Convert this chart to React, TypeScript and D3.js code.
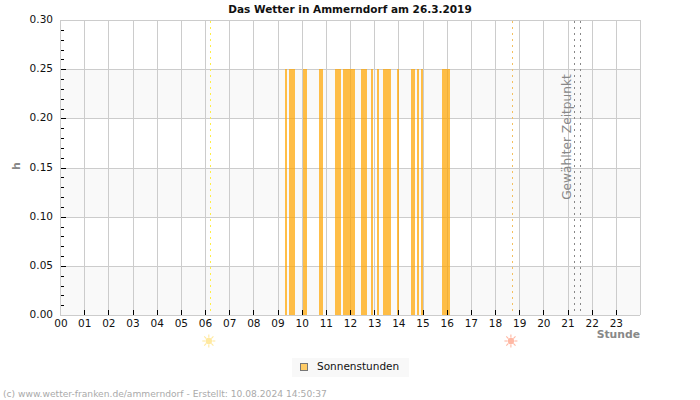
import React, { useRef, useEffect } from 'react';
import * as d3 from 'd3';

// Sunshine intervals, minutes after midnight
const sunStarts = [559, 569, 603, 643, 683, 703, 747, 772, 787, 802, 837, 872, 886, 896, 948];
const sunEnds = [564, 584, 613, 653, 698, 733, 762, 777, 792, 822, 842, 882, 891, 901, 968];
const sunValue = 0.25;

const hourLabels = d3.range(24).map((h) => String(h).padStart(2, '0'));
const bandStarts = [0, 0.1, 0.2];
const yMajorTicks = [0, 0.05, 0.1, 0.15, 0.2, 0.25, 0.3];
const yMinorTicks = d3.range(0, 31).map((v) => v / 100);

const sunrise = 6.22;
const sunset = 18.72;
const selectedTimes = [21.25, 21.5];

const width = 700;
const height = 400;
const margin = { top: 20, right: 60, bottom: 85, left: 60 };
const font = '"DejaVu Sans", sans-serif';
const labelSize = '10.5px';

const x = d3.scaleLinear().domain([0, 24]).range([margin.left, width - margin.right]);
const y = d3.scaleLinear().domain([0, 0.3]).range([height - margin.bottom, margin.top]);

const rays = d3.range(8).map((i) => (i * Math.PI) / 4);

const SunIcon: React.FC<{ cx: number; cy: number; color: string }> = ({ cx, cy, color }) => (
  <g transform={`translate(${cx}, ${cy})`}>
    <circle r={3.2} fill={color} />
    {rays.map((a) => (
      <line key={a} x1={Math.cos(a) * 3.5} y1={Math.sin(a) * 3.5} x2={Math.cos(a) * 6.5} y2={Math.sin(a) * 6.5} stroke={color} strokeWidth={1.1} />
    ))}
  </g>
);

const App: React.FC = () => {
  const gx = useRef<SVGGElement | null>(null);
  const gy = useRef<SVGGElement | null>(null);
  const gyMinor = useRef<SVGGElement | null>(null);

  useEffect(() => {
    const xAxis = d3
      .axisTop(x)
      .tickValues(d3.range(1, 24))
      .tickSize(5)
      .tickFormat((d) => hourLabels[d as number]);
    if (gx.current) {
      const g = d3.select(gx.current).call(xAxis);
      g.select('.domain').remove();
      g.selectAll('line').attr('stroke', '#000').attr('shape-rendering', 'crispEdges');
      // labels hang below the baseline although ticks point up into the plot
      g.selectAll('text')
        .attr('y', 12)
        .attr('dy', 0)
        .attr('fill', '#111')
        .style('font-size', labelSize)
        .style('font-family', font);
      g.selectAll('.first-label').remove();
      g.append('text')
        .attr('class', 'first-label')
        .attr('x', x(0) + 1)
        .attr('y', 12)
        .attr('text-anchor', 'middle')
        .attr('fill', '#111')
        .style('font-size', labelSize)
        .style('font-family', font)
        .text(hourLabels[0]);
    }

    const yAxis = d3
      .axisLeft(y)
      .tickValues(yMajorTicks)
      .tickSize(0)
      .tickPadding(7)
      .tickFormat(d3.format('.2f'));
    if (gy.current) {
      const g = d3.select(gy.current).call(yAxis);
      g.select('.domain').remove();
      g.selectAll('text')
        .attr('dy', '0.25em')
        .attr('fill', '#111')
        .style('font-size', labelSize)
        .style('font-family', font);
    }

    const yMinor = d3
      .axisRight(y)
      .tickValues(yMinorTicks.filter((v) => v > 0 && v < 0.3))
      .tickSize(3)
      .tickFormat(() => '');
    if (gyMinor.current) {
      const g = d3.select(gyMinor.current).call(yMinor);
      g.select('.domain').remove();
      g.selectAll('line')
        .attr('stroke', '#000')
        .attr('shape-rendering', 'crispEdges')
        .attr('x2', (d) => (Math.round((d as number) * 100) % 5 === 0 ? 5 : 3));
    }
  }, []);

  return (
    <svg width={width} height={height} style={{ position: 'absolute', left: 0, top: 0 }} fontFamily={font}>
      <rect width={width} height={height} fill="#fff" />

      <g shapeRendering="crispEdges">
        {bandStarts.map((v) => (
          <rect key={v} x={x(0)} width={x(24) - x(0)} y={y(v + 0.05)} height={y(v) - y(v + 0.05)} fill="#f9f9f9" />
        ))}
        {yMajorTicks.map((v) => (
          <line key={v} x1={x(0)} x2={x(24)} y1={Math.round(y(v)) + 0.5} y2={Math.round(y(v)) + 0.5} stroke="#ccc" />
        ))}
        {d3.range(0, 25).map((h) => (
          <line key={h} x1={Math.round(x(h)) + 0.5} x2={Math.round(x(h)) + 0.5} y1={y(0.3)} y2={y(0)} stroke="#ccc" />
        ))}
      </g>

      <g shapeRendering="crispEdges">
        {sunStarts.map((s, i) => {
          const x0 = Math.round(x(s / 60));
          const x1 = Math.round(x(sunEnds[i] / 60));
          return (
            <rect key={s} x={x0} width={x1 - x0} y={y(sunValue)} height={y(0) - y(sunValue)} fill="#ffa500" fillOpacity={0.72} />
          );
        })}
      </g>

      <g shapeRendering="crispEdges" strokeDasharray="2 4">
        <line x1={Math.floor(x(sunrise)) + 0.5} x2={Math.floor(x(sunrise)) + 0.5} y1={y(0.3) + 1} y2={y(0)} stroke="#ffee44" />
        <line x1={Math.floor(x(sunset)) + 0.5} x2={Math.floor(x(sunset)) + 0.5} y1={y(0.3) + 1} y2={y(0)} stroke="#f5c060" />
        {selectedTimes.map((t) => (
          <line key={t} x1={Math.round(x(t)) + 0.5} x2={Math.round(x(t)) + 0.5} y1={y(0.3) + 1} y2={y(0)} stroke="#888" />
        ))}
      </g>

      <g ref={gyMinor} transform={`translate(${x(0) + 1}, 0)`} />
      <g ref={gy} transform={`translate(${x(0)}, 0)`} />
      <g ref={gx} transform={`translate(0, ${y(0)})`} />

      <text x={350} y={13} textAnchor="middle" fontSize={10.5} fontWeight="bold" fill="#111">
        Das Wetter in Ammerndorf am 26.3.2019
      </text>
      <text transform="translate(20, 166) rotate(-90)" textAnchor="middle" fontSize={11} fontWeight="bold" fill="#888">
        h
      </text>
      <text x={640} y={338} textAnchor="end" fontSize={10.8} fontWeight="bold" fill="#888">
        Stunde
      </text>
      <text transform="translate(571, 137) rotate(-90)" textAnchor="middle" fontSize={12.2} fill="#888">
        Gewählter Zeitpunkt
      </text>

      <SunIcon cx={x(sunrise) - 1.5} cy={341} color="#ffe9a0" />
      <SunIcon cx={x(sunset) - 1.5} cy={341} color="#ffb8a4" />

      <rect x={292} y={358} width={117} height={19} fill="#f8f8f8" />
      <rect x={300.5} y={363.5} width={7} height={7} fill="#ffcc66" stroke="#777" shapeRendering="crispEdges" />
      <text x={317} y={370} fontSize={10.5} fill="#111">
        Sonnenstunden
      </text>

      <text x={3} y={397} fontSize={9.15} fill="#aaa">
        (c) www.wetter-franken.de/ammerndorf - Erstellt: 10.08.2024 14:50:37
      </text>
    </svg>
  );
};

export default App;
